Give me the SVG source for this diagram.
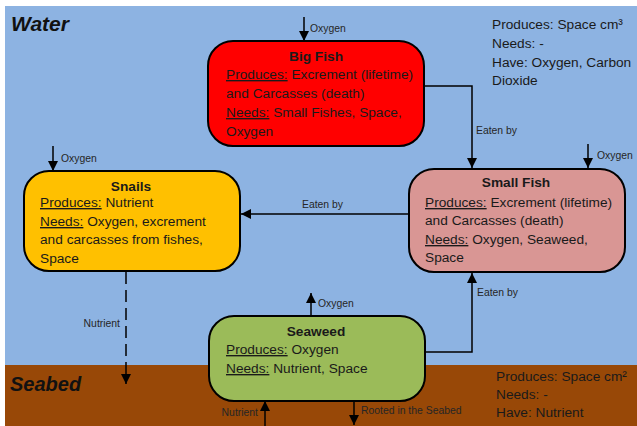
<svg xmlns="http://www.w3.org/2000/svg" width="637" height="426" viewBox="0 0 637 426">
<style>
.box{stroke:#000;stroke-width:2}
.t{font-family:"Liberation Sans",Arial,sans-serif;font-size:13.7px;fill:#1a1a1a}
.b{font-weight:bold;text-anchor:middle}
.u{text-decoration:underline}
.lbl{font-family:"Liberation Sans",Arial,sans-serif;font-size:10.4px;fill:#262626}
.big{font-family:"Liberation Sans",Arial,sans-serif;font-weight:bold;font-style:italic;fill:#111}
.c{fill:none;stroke:#000;stroke-width:1.5}
</style>
<defs>
<marker id="ah" markerUnits="userSpaceOnUse" markerWidth="10" markerHeight="10" viewBox="0 0 10 10" refX="10" refY="5" orient="auto">
<path d="M0,0 L10,5 L0,10 Z" fill="#000"/>
</marker>
</defs>
<rect x="0" y="0" width="637" height="426" fill="#fff"/>
<rect x="5" y="6" width="632" height="359" fill="#8DB3E2"/>
<rect x="5" y="365" width="632" height="61" fill="#984807"/>
<text class="big" x="11" y="31" font-size="21">Water</text>
<text class="big" x="10" y="391" font-size="20">Seabed</text>
<g id="water-info" class="t">
<text x="492" y="29">Produces: Space cm³</text>
<text x="492" y="48">Needs: -</text>
<text x="492" y="67">Have: Oxygen, Carbon</text>
<text x="492" y="85">Dioxide</text>
</g>
<g id="seabed-info" class="t">
<text x="496" y="381">Produces: Space cm²</text>
<text x="496" y="399">Needs: -</text>
<text x="496" y="417">Have: Nutrient</text>
</g>
<g id="connectors">
<path class="c" d="M424,86 H472 V168" marker-end="url(#ah)"/>
<path class="c" d="M409,214 H241" marker-end="url(#ah)"/>
<path class="c" d="M425,352 H472 V273" marker-end="url(#ah)"/>
<path class="c" d="M126,272 V384" stroke-dasharray="12,6" marker-end="url(#ah)"/>
<path class="c" d="M304,17 V41" marker-end="url(#ah)"/>
<path class="c" d="M53,146 V171" marker-end="url(#ah)"/>
<path class="c" d="M588,144 V168" marker-end="url(#ah)"/>
<path class="c" d="M311,316 V293" marker-end="url(#ah)"/>
<path class="c" d="M265,426 V401" marker-end="url(#ah)"/>
<path class="c" d="M354,401 V425" marker-end="url(#ah)"/>
<text class="lbl" x="310" y="32">Oxygen</text>
<text class="lbl" x="61" y="162">Oxygen</text>
<text class="lbl" x="597" y="159">Oxygen</text>
<text class="lbl" x="318" y="307">Oxygen</text>
<text class="lbl" x="476" y="134">Eaten by</text>
<text class="lbl" x="302" y="208">Eaten by</text>
<text class="lbl" x="477" y="296">Eaten by</text>
<text class="lbl" x="120" y="327" text-anchor="end">Nutrient</text>
<text class="lbl" x="258" y="416" text-anchor="end">Nutrient</text>
<text class="lbl" x="361" y="414">Rooted in the Seabed</text>
</g>
<g id="big-fish">
<rect class="box" x="208" y="41" width="216" height="105" rx="25" fill="#FF0000"/>
<text class="t b" x="316" y="61">Big Fish</text>
<text class="t" x="226" y="79"><tspan class="u">Produces:</tspan> Excrement (lifetime)</text>
<text class="t" x="226" y="98">and Carcasses (death)</text>
<text class="t" x="226" y="117"><tspan class="u">Needs:</tspan> Small Fishes, Space,</text>
<text class="t" x="226" y="136">Oxygen</text>
</g>
<g id="small-fish">
<rect class="box" x="409" y="169" width="216" height="103" rx="25" fill="#D99694"/>
<text class="t b" x="516" y="187">Small Fish</text>
<text class="t" x="425" y="207"><tspan class="u">Produces:</tspan> Excrement (lifetime)</text>
<text class="t" x="425" y="225">and Carcasses (death)</text>
<text class="t" x="425" y="244"><tspan class="u">Needs:</tspan> Oxygen, Seaweed,</text>
<text class="t" x="425" y="262">Space</text>
</g>
<g id="snails">
<rect class="box" x="24" y="171" width="216" height="100" rx="25" fill="#FFC000"/>
<text class="t b" x="131" y="191">Snails</text>
<text class="t" x="40" y="207"><tspan class="u">Produces:</tspan> Nutrient</text>
<text class="t" x="40" y="226"><tspan class="u">Needs:</tspan> Oxygen, excrement</text>
<text class="t" x="40" y="244">and carcasses from fishes,</text>
<text class="t" x="40" y="263">Space</text>
</g>
<g id="seaweed">
<rect class="box" x="209" y="316" width="216" height="85" rx="25" fill="#9BBB59"/>
<text class="t b" x="316" y="336">Seaweed</text>
<text class="t" x="226" y="354"><tspan class="u">Produces:</tspan> Oxygen</text>
<text class="t" x="226" y="373"><tspan class="u">Needs:</tspan> Nutrient, Space</text>
</g>
</svg>
